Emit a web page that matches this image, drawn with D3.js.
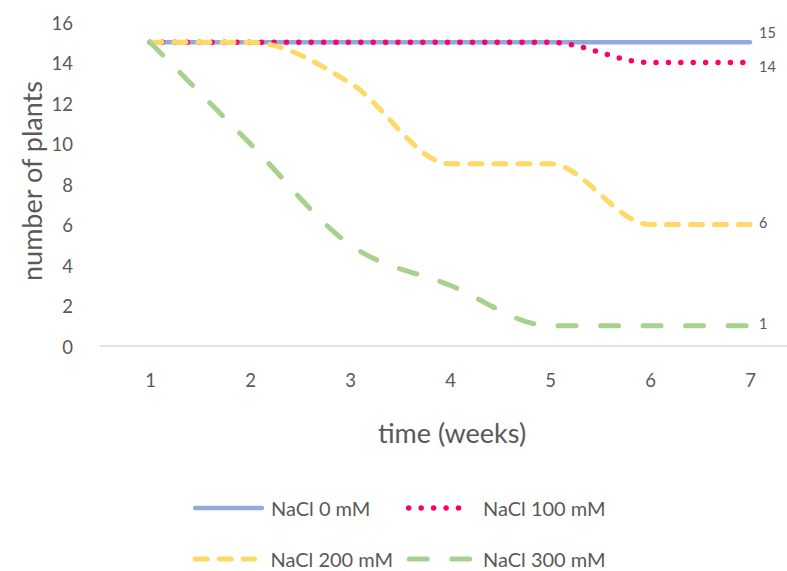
<!DOCTYPE html>
<html>
<head>
<meta charset="utf-8">
<script src="https://cdn.jsdelivr.net/npm/d3@7/dist/d3.min.js"></script>
<style>
  html, body { margin: 0; padding: 0; background: #fff; }
  svg { display: block; font-family: Lato, "Open Sans", sans-serif; }
</style>
</head>
<body>
<svg id="chart" width="787" height="571"></svg>
<script>
// Weeks of observation
const weeks = [1, 2, 3, 4, 5, 6, 7];

// Number of surviving plants per salt treatment
const nacl0   = [15, 15, 15, 15, 15, 15, 15];
const nacl100 = [15, 15, 15, 15, 15, 14, 14];
const nacl200 = [15, 15, 13, 9, 9, 6, 6];
const nacl300 = [15, 10, 5, 3, 1, 1, 1];

const seriesNames = ["NaCl 0 mM", "NaCl 100 mM", "NaCl 200 mM", "NaCl 300 mM"];
const yTicks = [0, 2, 4, 6, 8, 10, 12, 14, 16];

const series = [
  { name: seriesNames[0], values: nacl0,   color: "#8FAADC", dash: null,      width: 4.5, labelDy: -10 },
  { name: seriesNames[1], values: nacl100, color: "#FF0066", dash: "0 12.4",  width: 5.5, labelDy: 4 },
  { name: seriesNames[2], values: nacl200, color: "#FFD966", dash: "12 12",   width: 5,   labelDy: -2.5 },
  { name: seriesNames[3], values: nacl300, color: "#A9D18E", dash: "18 24.5", width: 5,   labelDy: -2 }
];

const svg = d3.select("#chart");
const textColor = "#595959";

const x = d3.scalePoint().domain(weeks).range([150, 750]);
const y = d3.scaleLinear().domain([0, 16]).range([346, 22]);

// Horizontal category axis line
svg.append("line")
  .attr("x1", 100).attr("x2", 800)
  .attr("y1", y(0)).attr("y2", y(0))
  .attr("stroke", "#d9d9d9").attr("stroke-width", 1.5);

// Value axis labels
const yAxis = d3.axisLeft(y).tickValues(yTicks).tickSize(0).tickPadding(0);
const gy = svg.append("g").attr("transform", "translate(73,1.5)").call(yAxis);
gy.select(".domain").remove();
gy.selectAll("text")
  .attr("fill", textColor)
  .attr("font-size", 18.5)
  .attr("font-family", "Lato, sans-serif");

// Category axis labels
const xAxis = d3.axisBottom(x).tickSize(0).tickPadding(0);
const gx = svg.append("g").attr("transform", "translate(0,374)").call(xAxis);
gx.select(".domain").remove();
gx.selectAll("text")
  .attr("fill", textColor)
  .attr("font-size", 18.5)
  .attr("font-family", "Lato, sans-serif");

// Axis titles
svg.append("text")
  .attr("x", 452).attr("y", 443)
  .attr("text-anchor", "middle")
  .attr("fill", textColor)
  .attr("font-size", 27)
  .text("time (weeks)");

svg.append("text")
  .attr("transform", "translate(42,181) rotate(-90)")
  .attr("text-anchor", "middle")
  .attr("fill", textColor)
  .attr("font-size", 27)
  .text("number of plants");

// Smoothed lines
const line = d3.line()
  .x((d, i) => x(weeks[i]))
  .y(d => y(d))
  .curve(d3.curveMonotoneX);

series.forEach(s => {
  svg.append("path")
    .datum(s.values)
    .attr("d", line)
    .attr("fill", "none")
    .attr("stroke", s.color)
    .attr("stroke-width", s.width)
    .attr("stroke-linecap", "round")
    .attr("stroke-linejoin", "round")
    .attr("stroke-dasharray", s.dash);
});

// End-of-series value labels
series.forEach(s => {
  const last = s.values[s.values.length - 1];
  svg.append("text")
    .attr("x", x(weeks[weeks.length - 1]) + 9)
    .attr("y", y(last) + s.labelDy)
    .attr("dominant-baseline", "central")
    .attr("fill", textColor)
    .attr("font-size", 14.5)
    .text(last);
});

// Legend, two rows of two entries
const legendPos = [
  { x: 193, y: 508 }, { x: 407, y: 508 },
  { x: 193, y: 559 }, { x: 407, y: 559 }
];
const legendSample = [
  { x1: 2.2, x2: 68.8, dash: null,      textX: 78 },
  { x1: 1.7, x2: 64,   dash: "0 12.46", textX: 76 },
  { x1: 2.2, x2: 61.5, dash: "12 12",   textX: 77.5 },
  { x1: 2.2, x2: 62.8, dash: "18 24.6", textX: 76 }
];
series.forEach((s, i) => {
  const p = legendPos[i];
  const ls = legendSample[i];
  const g = svg.append("g").attr("transform", `translate(${p.x},${p.y})`);
  g.append("line")
    .attr("x1", ls.x1).attr("x2", ls.x2)
    .attr("stroke", s.color)
    .attr("stroke-width", s.width)
    .attr("stroke-linecap", "round")
    .attr("stroke-dasharray", ls.dash);
  g.append("text")
    .attr("x", ls.textX).attr("y", 8)
    .attr("fill", textColor)
    .attr("font-size", 20)
    .text(s.name);
});
</script>
</body>
</html>
